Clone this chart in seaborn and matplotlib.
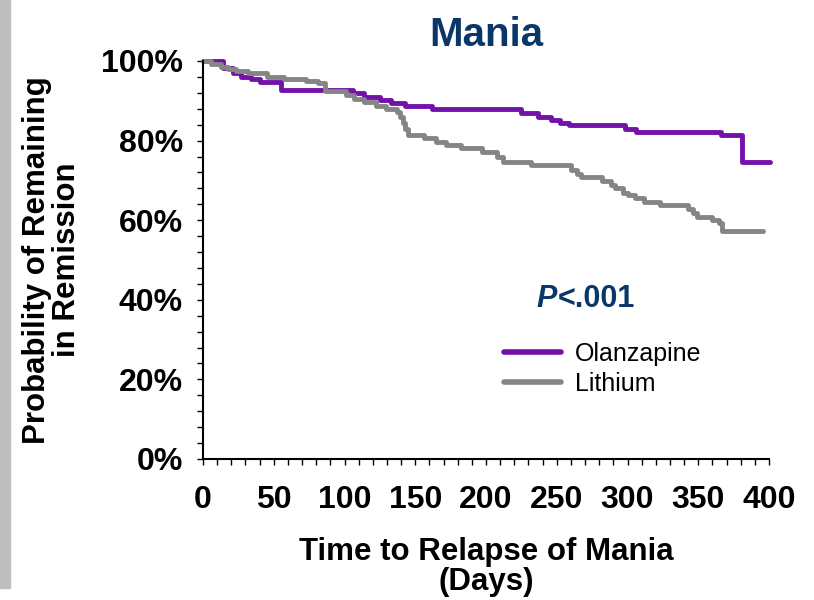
import matplotlib
matplotlib.use("Agg")
import matplotlib.pyplot as plt
from matplotlib.patches import Rectangle
from matplotlib.ticker import MultipleLocator, FuncFormatter
import pandas as pd
import seaborn as sns

# Kaplan-Meier style step data: day of each step and survival (%) after it
olz_days = [0, 14, 21, 27, 34, 40, 55, 106, 114, 125, 133, 143, 162, 225, 237,
            246, 252, 259, 298, 306, 366, 381, 401]
olz_surv = [100, 98.2, 96.9, 96.1, 95.5, 94.8, 92.6, 91.9, 91.0, 90.2, 89.5, 88.7,
            87.9, 86.9, 86.0, 85.1, 84.4, 83.8, 83.0, 82.2, 81.3, 74.6, 74.6]

li_days = [0, 6, 13, 18, 23, 32, 45, 57, 73, 81, 86, 101, 107, 114, 122, 129, 137,
           139, 141, 143, 145, 156, 165, 172, 182, 197, 208, 212, 232, 260, 264,
           267, 282, 288, 291, 297, 300, 305, 312, 323, 343, 346, 349, 360, 365,
           367, 396]
li_surv = [100, 99.2, 98.6, 98.0, 97.5, 96.9, 96.1, 95.5, 95.1, 94.4, 92.4, 91.4,
           90.5, 89.6, 88.8, 88.0, 87.3, 86.0, 84.5, 83.0, 81.4, 80.6, 79.7, 78.9,
           78.1, 77.1, 75.9, 74.7, 73.9, 72.6, 71.7, 70.8, 69.8, 68.9, 68.0, 66.8,
           66.3, 65.5, 64.6, 63.8, 62.7, 61.7, 60.9, 60.1, 59.2, 57.3, 57.3]

groups = ["Olanzapine", "Lithium"]
colors = {"Olanzapine": "#7312A8", "Lithium": "#858585"}

df = pd.concat([
    pd.DataFrame({"day": olz_days, "surv": olz_surv, "group": "Olanzapine"}),
    pd.DataFrame({"day": li_days, "surv": li_surv, "group": "Lithium"}),
])

sns.set_theme(style="white")
plt.rcParams["font.family"] = ["Liberation Sans", "DejaVu Sans"]

navy = "#0B3668"
fig = plt.figure(figsize=(8.14, 6.0), dpi=100)
ax = fig.add_axes([203 / 814, 141 / 600, 566 / 814, 398 / 600])

# grey strip along the left edge
fig.patches.append(Rectangle((0, 12 / 600), 10 / 814, 588 / 600,
                             transform=fig.transFigure, color="#BEBEBE", zorder=0))

sns.lineplot(data=df, x="day", y="surv", hue="group", hue_order=groups,
             palette=colors, estimator=None, sort=True, drawstyle="steps-post",
             linewidth=3.5, ax=ax, legend=False, clip_on=False,
             solid_capstyle="round", solid_joinstyle="round")

ax.set_xlim(0, 400)
ax.set_ylim(0, 100)
ax.xaxis.set_major_locator(MultipleLocator(50))
ax.xaxis.set_minor_locator(MultipleLocator(10))
ax.yaxis.set_major_locator(MultipleLocator(20))
ax.yaxis.set_minor_locator(MultipleLocator(4))
ax.yaxis.set_major_formatter(FuncFormatter(lambda v, p: f"{v:.0f}%"))

for s in ["top", "right"]:
    ax.spines[s].set_visible(False)
for s in ["left", "bottom"]:
    ax.spines[s].set_color("black")
    ax.spines[s].set_linewidth(1.5)

ax.tick_params(axis="both", which="both", direction="out", length=4.5,
               width=1.0, color="black", left=True, bottom=True)
ax.tick_params(axis="x", which="major", labelsize=23, pad=14)
ax.tick_params(axis="y", which="major", labelsize=23, pad=10)
for lab in ax.get_xticklabels() + ax.get_yticklabels():
    lab.set_fontweight("bold")
    lab.set_color("black")

ax.set_xlabel("Time to Relapse of Mania\n(Days)", fontsize=22.5,
              fontweight="bold", color="black", linespacing=1.0)
ax.xaxis.set_label_coords(0.5, -0.195)
ax.set_ylabel("Probability of Remaining\nin Remission", fontsize=22.5,
              fontweight="bold", color="black", linespacing=1.0)
ax.yaxis.set_label_coords(-0.213, 0.5)

ax.set_title("Mania", fontsize=29, fontweight="bold", color=navy, pad=11)

# significance note: italic P followed by the rest of the text
p_txt = ax.text(236, 38.2, "P", fontsize=22, fontweight="bold",
                fontstyle="italic", color=navy, va="baseline", ha="left")
ax.annotate("<.001", xy=(1, 0), xycoords=p_txt, va="bottom", ha="left",
            fontsize=22, fontweight="bold", color=navy)

handles = [plt.Line2D([], [], color=colors[g], linewidth=4.0,
                      solid_capstyle="round") for g in groups]
leg = ax.legend(handles, groups, loc="upper left", bbox_to_anchor=(0.531, 0.295),
                frameon=False, fontsize=18, handlelength=2.3, handletextpad=0.55,
                labelspacing=0.25, borderpad=0, borderaxespad=0)
for t in leg.get_texts():
    t.set_color("black")

fig.savefig("out.png", dpi=100)
